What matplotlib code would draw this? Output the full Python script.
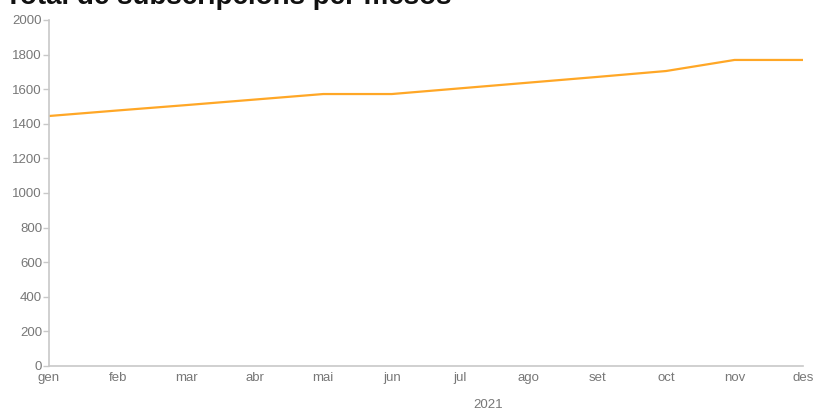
import matplotlib.pyplot as plt

MONTHS = ['gen', 'feb', 'mar', 'abr', 'mai', 'jun', 'jul', 'ago', 'set', 'oct', 'nov', 'des']
TOTAL = [1445, 1477, 1508, 1540, 1572, 1572, 1605, 1638, 1671, 1705, 1769, 1769]
YTICKS = list(range(0, 2001, 200))

plt.rcParams.update({'font.family': ['Liberation Sans', 'DejaVu Sans']})

fig = plt.figure(figsize=(8.17, 4.08), dpi=100)
ax = fig.add_axes([0.060, 0.103, 0.923, 0.848])

ax.plot(range(len(MONTHS)), TOTAL, color='#FFA726', lw=1.6, solid_capstyle='butt')

ax.set_xlim(0, len(MONTHS) - 1)
ax.set_ylim(0, 2000)
ax.set_yticks(YTICKS)
ax.set_xticks(range(len(MONTHS)))
ax.set_xticklabels(MONTHS)

for b in ['top', 'right']:
    ax.spines[b].set_visible(False)
for b in ['left', 'bottom']:
    ax.spines[b].set_color('#c8c8c8')
    ax.spines[b].set_linewidth(1.2)

ax.tick_params(axis='y', colors='#c8c8c8', labelcolor='#777777', labelsize=9.5,
               length=4, width=1, pad=1)
ax.tick_params(axis='x', length=0, labelcolor='#777777', labelsize=9.5, pad=4)

ax.set_xlabel('2021', color='#777777', fontsize=9.5)
ax.xaxis.set_label_coords(0.582, -0.095)

fig.text(0.006, 1.0 - 0.010, 'Total de subscripcions per mesos', fontsize=20,
         fontweight='bold', color='#111111', va='baseline', ha='left')

plt.savefig('out.png', dpi=100)
plt.close()
